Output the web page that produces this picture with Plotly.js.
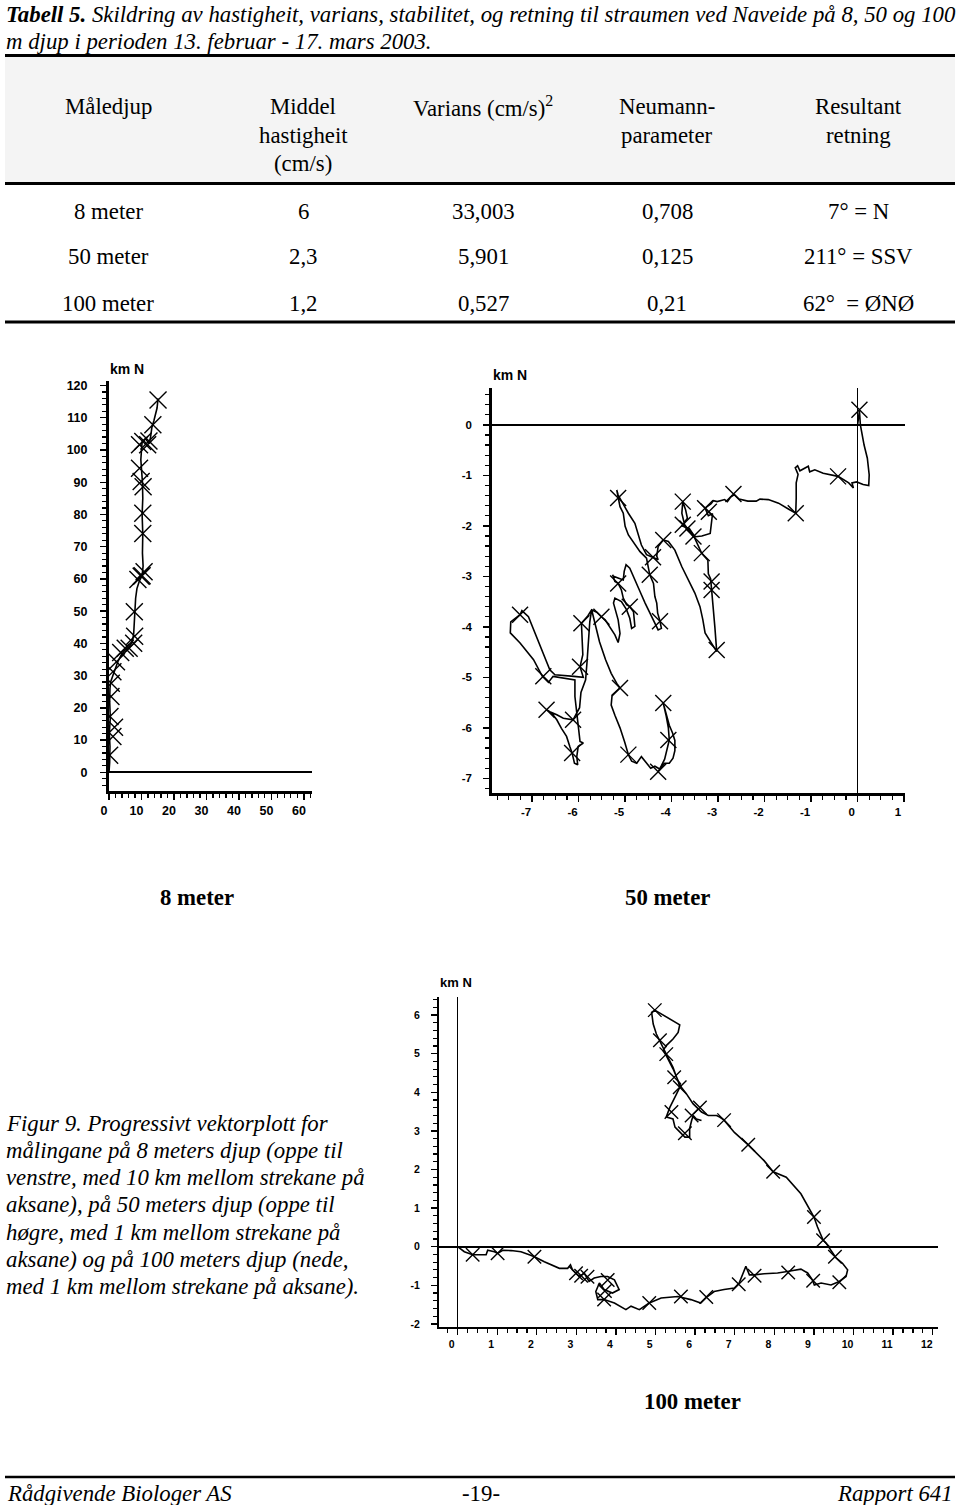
<!DOCTYPE html>
<html><head><meta charset="utf-8">
<script src="https://cdn.plot.ly/plotly-3.0.1.min.js"></script>
<style>html,body{margin:0;padding:0;background:#fff}#c{width:960px;height:1505px}</style>
</head><body><div id="c"></div>
<script>
// ---------- data: 8 m (km) ----------
const x8 = [0,0.2,0.3,0.1,0.4,0.2,0.3,0.5,1.2,2.0,2.8,3.8,5.0,6.2,7.2,7.6,7.8,8.0,8.2,8.6,9.4,10.2,10.5,10.3,10.4,10.2,10.4,10.3,10.1,9.8,10.0,10.2,11.2,12.4,12.8,13.2,13.8,14.4,14.8,15.1];
const y8 = [0,3,8,12,17,22,26,28,30,32.5,34.5,36.5,38,39,40.5,43,47,50,54,57,59.5,61,64,68,74,80,85,90,94,97,100,102.5,103.5,102,104,107,109,111,113,116];
const mx8 = [0.2,1.2,1.7,0.3,0.6,0.7,1.2,2.3,3.6,5.0,6.2,7.6,7.9,7.8,8.9,9.9,10.8,10.2,10.4,10.4,10.5,9.9,9.4,9.4,10.4,11.9,12.3,13.5,15.1];
const my8 = [5.3,11.1,14.0,17.3,23.5,27.6,31.2,34.3,37.2,38.5,38.5,40.0,42.2,49.8,59.8,60.8,62.2,61.0,74.1,80.4,88.6,90.2,94.3,101.6,102.6,101.6,102.8,107.8,115.5];

// ---------- data: 50 m (km) ----------
const x50 = [0,0.04,0.06,0.10,0.14,0.21,0.25,0.24,0.12,-0.02,-0.12,-0.09,-0.19,-0.42,-0.60,-0.74,-0.92,-1.03,-1.06,-1.13,-1.24,-1.29,-1.34,-1.28,-1.32,-1.32,-1.33,-1.48,-1.70,-1.92,-2.10,-2.18,-2.36,-2.55,-2.65,-2.73,-2.80,-2.86,-3.02,-3.10,-3.15,-3.28,-3.21,-3.12,-3.14,-3.17,-3.35,-3.53,-3.62,-3.72,-3.78,-3.76,-3.70,-3.66,-3.78,-3.62,-3.55,-3.45,-3.35,-3.22,-3.21,-3.16,-3.14,-3.10,-3.07,-3.03,-3.14,-3.28,-3.33,-3.39,-3.50,-3.64,-3.78,-3.93,-4.07,-4.18,-4.29,-4.32,-4.29,-4.36,-4.54,-4.65,-4.72,-4.79,-4.93,-5.04,-5.15,-5.18,-5.11,-5.04,-5.00,-4.93,-4.79,-4.68,-4.54,-4.50,-4.47,-4.39,-4.36,-4.32,-4.30,-4.25,-4.22,-4.29,-4.36,-4.47,-4.57,-4.68,-4.79,-4.90,-4.98,-5.02,-5.04,-5.25,-5.27,-5.22,-5.15,-5.08,-5.04,-4.97,-4.90,-4.82,-4.79,-4.86,-4.90,-4.97,-5.08,-5.22,-5.25,-5.15,-5.11,-5.15,-5.22,-5.33,-5.43,-5.51,-5.61,-5.72,-5.80,-5.94,-5.93,-5.91,-5.97,-5.90,-6.10,-6.30,-6.51,-6.62,-6.76,-6.90,-7.08,-7.22,-7.26,-7.46,-7.47,-7.26,-6.97,-6.78,-6.65,-6.55,-6.30,-6.08,-6.08,-6.04,-6.01,-5.97,-5.90,-6.01,-6.04,-6.02,-6.09,-6.14,-6.19,-6.26,-6.37,-6.47,-6.58,-6.69,-6.62,-6.47,-6.33,-6.12,-5.98,-5.95,-5.85,-5.82,-5.79,-5.76,-5.72,-5.65,-5.55,-5.42,-5.30,-5.18,-5.11,-5.28,-5.30,-5.22,-5.11,-5.01,-4.93,-4.86,-4.75,-4.65,-4.55,-4.45,-4.36,-4.25,-4.15,-4.05,-3.97,-3.93,-3.93,-3.98,-4.05,-4.10,-4.15,-4.18,-4.12,-4.07,-4.05,-4.10,-4.15,-4.22,-4.29];
const y50 = [0,0.28,0.00,-0.25,-0.40,-0.66,-0.99,-1.20,-1.18,-1.13,-1.15,-1.25,-1.15,-1.02,-0.98,-0.96,-0.89,-0.93,-0.82,-0.86,-0.91,-0.81,-0.85,-0.98,-1.15,-1.45,-1.75,-1.67,-1.55,-1.48,-1.47,-1.51,-1.51,-1.47,-1.38,-1.43,-1.52,-1.48,-1.52,-1.50,-1.56,-1.65,-1.80,-1.76,-1.95,-2.15,-2.20,-2.22,-2.10,-1.98,-1.75,-1.52,-1.68,-1.85,-2.00,-2.05,-2.15,-2.35,-2.55,-2.68,-2.95,-3.05,-3.25,-3.55,-4.00,-4.49,-4.33,-4.12,-3.85,-3.60,-3.33,-3.07,-2.81,-2.48,-2.31,-2.28,-2.41,-2.60,-2.67,-2.64,-2.57,-2.38,-2.15,-1.95,-1.75,-1.58,-1.39,-1.29,-1.62,-1.75,-2.01,-2.18,-2.38,-2.51,-2.64,-2.81,-2.97,-3.14,-3.40,-3.53,-3.73,-3.89,-4.03,-4.06,-3.93,-3.73,-3.53,-3.30,-3.07,-2.84,-2.77,-2.90,-3.07,-3.00,-2.97,-3.10,-3.14,-3.27,-3.43,-3.56,-3.60,-3.70,-3.99,-4.03,-3.83,-3.66,-3.50,-3.43,-3.53,-3.86,-4.13,-4.31,-4.16,-3.99,-3.86,-3.80,-3.71,-3.66,-3.78,-3.93,-4.25,-4.55,-4.79,-5.00,-4.98,-4.96,-4.95,-4.85,-4.52,-4.19,-3.80,-3.68,-3.76,-3.90,-4.12,-4.32,-4.65,-4.98,-5.10,-4.98,-5.02,-5.05,-5.38,-5.71,-6.04,-6.27,-6.30,-6.37,-6.57,-6.73,-6.70,-6.50,-6.37,-6.17,-6.01,-5.84,-5.71,-5.64,-5.68,-5.74,-5.81,-5.84,-5.60,-5.30,-5.05,-4.70,-4.30,-3.90,-3.66,-3.95,-4.30,-4.65,-4.92,-5.12,-5.21,-5.35,-5.55,-5.75,-6.00,-6.28,-6.53,-6.66,-6.70,-6.57,-6.68,-6.80,-6.76,-6.82,-6.70,-6.70,-6.60,-6.45,-6.25,-6.10,-5.95,-5.80,-5.60,-5.51,-5.75,-6.00,-6.24,-6.45,-6.62,-6.75,-6.87];
const mx50 = [0.04,-0.42,-1.33,-2.67,-3.28,-3.20,-3.76,-3.76,-3.66,-3.53,-3.35,-3.14,-3.14,-3.03,-4.18,-4.40,-4.47,-5.15,-5.15,-4.90,-4.25,-5.51,-5.94,-7.26,-6.76,-5.97,-5.11,-6.69,-6.12,-6.14,-4.93,-4.18,-4.07,-4.29];
const my50 = [0.30,-1.02,-1.75,-1.37,-1.65,-1.72,-1.52,-1.98,-2.05,-2.21,-2.54,-3.10,-3.27,-4.46,-2.28,-2.62,-2.97,-1.45,-3.14,-3.60,-3.89,-3.80,-3.93,-3.76,-4.98,-4.79,-5.21,-5.64,-5.84,-6.50,-6.53,-5.51,-6.24,-6.87];

// ---------- data: 100 m (km) ----------
const x100 = [0,0.17,0.38,0.50,0.72,0.76,0.93,1.01,1.14,1.35,1.60,1.81,1.94,2.19,2.44,2.57,2.78,2.85,2.90,2.99,3.07,3.20,3.32,3.45,3.62,3.79,3.96,4.08,3.91,3.70,3.58,3.49,3.54,3.70,3.96,4.25,4.38,4.59,4.84,5.14,5.56,5.89,6.14,6.31,6.48,6.73,6.99,7.11,7.20,7.28,7.37,7.49,7.74,8.08,8.33,8.67,8.84,8.96,9.01,9.18,9.43,9.64,9.81,9.85,9.72,9.55,9.40,9.30,9.23,9.15,9.09,9.00,8.85,8.67,8.30,7.97,7.74,7.34,6.99,6.73,6.62,6.54,6.33,6.16,6.08,5.95,5.78,5.65,5.53,5.44,5.27,5.15,5.02,4.94,4.90,4.98,5.15,5.36,5.61,5.57,5.44,5.27,5.19,5.27,5.44,5.57,5.61,5.53,5.44,5.36,5.27,5.44,5.49,5.61,5.74,5.86,5.86,5.91,5.95,6.03,6.16];
const y100 = [0,-0.13,-0.21,-0.21,-0.21,-0.09,-0.13,-0.17,-0.09,-0.10,-0.13,-0.21,-0.26,-0.39,-0.51,-0.56,-0.56,-0.47,-0.60,-0.69,-0.77,-0.69,-0.90,-0.81,-0.77,-0.77,-0.86,-1.11,-1.20,-1.11,-0.94,-1.16,-1.37,-1.37,-1.46,-1.63,-1.54,-1.63,-1.46,-1.33,-1.29,-1.37,-1.46,-1.29,-1.16,-1.11,-1.07,-0.94,-0.73,-0.51,-0.73,-0.73,-0.70,-0.68,-0.64,-0.58,-0.68,-0.86,-0.99,-0.94,-0.99,-0.90,-0.77,-0.60,-0.43,-0.28,-0.05,0.10,0.17,0.35,0.51,0.77,1.05,1.37,1.80,1.94,2.23,2.64,2.96,3.28,3.36,3.40,3.40,3.49,3.57,3.70,3.96,4.13,4.39,4.65,4.99,5.25,5.51,5.77,6.07,6.13,6.03,5.90,5.75,5.55,5.38,5.21,5.08,4.95,4.61,4.30,4.13,3.96,3.79,3.61,3.36,3.31,3.10,2.97,2.84,2.84,3.06,3.27,3.40,3.31,3.27];
const mx100 = [0.38,1.01,1.94,2.99,3.12,3.28,3.79,3.72,3.70,4.84,5.64,6.28,7.10,7.50,8.35,8.98,9.64,9.53,9.23,9.00,7.97,7.34,6.73,6.12,5.91,5.40,5.74,5.61,5.47,5.27,5.11,4.98];
const my100 = [-0.21,-0.17,-0.26,-0.69,-0.75,-0.78,-0.86,-1.15,-1.37,-1.46,-1.29,-1.30,-0.97,-0.75,-0.67,-0.88,-0.92,-0.26,0.17,0.77,1.94,2.64,3.28,3.61,3.40,3.49,2.94,4.13,4.39,4.99,5.35,6.13];

// ---------- tick labels ----------
const t8x = [0,10,20,30,40,50,60], t8xl = ['0','10','20','30','40','50','60'];
const t8y = [0,10,20,30,40,50,60,70,80,90,100,110,120], t8yl = t8y.map(String);
const t50x = [-7,-6,-5,-4,-3,-2,-1,0,1], t50xl = ['-7','-6','-5','-4','-3','-2','-1','0','1'];
const t50y = [0,-1,-2,-3,-4,-5,-6,-7], t50yl = ['0','-1','-2','-3','-4','-5','-6','-7'];
const t100x = [0,1,2,3,4,5,6,7,8,9,10,11,12], t100xl = t100x.map(String);
const t100y = [-2,-1,0,1,2,3,4,5,6], t100yl = ['-2','-1','0','1','2','3','4','5','6'];

// ---------- table ----------
const tblHead = [['Måledjup'],['Middel','hastigheit','(cm/s)'],['Varians (cm/s)<sup>2</sup>'],['Neumann-','parameter'],['Resultant','retning']];
const tblRows = [
  ['8 meter','6','33,003','0,708','7° = N'],
  ['50 meter','2,3','5,901','0,125','211° = SSV'],
  ['100 meter','1,2','0,527','0,21','62°  = ØNØ']
];
const captionLines = ['Figur 9. Progressivt vektorplott for','målingane på 8 meters djup (oppe til','venstre, med 10 km mellom strekane på','aksane), på 50 meters djup (oppe til','høgre, med 1 km mellom strekane på','aksane) og på 100 meters djup (nede,','med 1 km mellom strekane på aksane).'];

// ---------- layout helpers ----------
const W=960,H=1505;
const px=x=>x/W, py=y=>1-y/H;
const SERIF='"Liberation Serif", "Times New Roman", serif';
const SANS='"Liberation Sans", Arial, sans-serif';
const FS=22.8;
const ann=[];
function txt(x,y,text,size,anchor,fam){ann.push({xref:'paper',yref:'paper',x:px(x),y:py(y),text:text,showarrow:false,xanchor:anchor||'center',yanchor:'middle',font:{family:fam||SERIF,size:size,color:'#000'}});}

// title
txt(4,15,'<b><i>Tabell 5.</i></b><i> Skildring av hastigheit, varians, stabilitet, og retning til straumen ved Naveide på 8, 50 og 100</i>',FS,'left');
txt(4,41,'<i>m djup i perioden 13. februar - 17. mars 2003.</i>',FS,'left');
// table
const colX=[108,303,483,667,858];
tblHead.forEach((lines,i)=>lines.forEach((l,j)=>txt(colX[i],107+j*28.5,l,FS)));
tblRows.forEach((r,j)=>r.forEach((v,i)=>txt(colX[i],211+j*46,v,FS)));
// plot labels
txt(197,897,'<b>8 meter</b>',FS); txt(667,897,'<b>50 meter</b>',FS); txt(692,1401,'<b>100 meter</b>',FS);
txt(127,369,'<b>km N</b>',14,'center',SANS);
txt(510,375,'<b>km N</b>',14,'center',SANS);
txt(456,982,'<b>km N</b>',13,'center',SANS);
// caption
captionLines.forEach((l,i)=>txt(4,1123+i*27.3,'<i>'+l+'</i>',FS,'left'));
// footer
txt(5,1493,'<i>Rådgivende Biologer AS</i>',FS,'left');
txt(481,1493,'-19-',FS);
txt(955,1493,'<i>Rapport 641</i>',FS,'right');

const shapes=[
 {type:'rect',xref:'paper',yref:'paper',x0:px(5),x1:px(955),y0:py(57),y1:py(182),fillcolor:'#f4f4f4',line:{width:0},layer:'below'},
 {type:'line',xref:'paper',yref:'paper',x0:px(5),x1:px(955),y0:py(55.5),y1:py(55.5),line:{color:'#000',width:3}},
 {type:'line',xref:'paper',yref:'paper',x0:px(5),x1:px(955),y0:py(183.5),y1:py(183.5),line:{color:'#000',width:3}},
 {type:'line',xref:'paper',yref:'paper',x0:px(5),x1:px(955),y0:py(322),y1:py(322),line:{color:'#000',width:3}},
 {type:'line',xref:'paper',yref:'paper',x0:px(5),x1:px(955),y0:py(1477),y1:py(1477),line:{color:'#000',width:2.5}}
];

function axis(dom,range,tv,tt,minor,lw,stand,fs,extra){
  return Object.assign({domain:dom,range:range,autorange:false,showgrid:false,zeroline:false,showline:true,linecolor:'#000',linewidth:lw,
    ticks:'outside',ticklen:6,tickwidth:1.4,tickcolor:'#000',tickmode:'array',tickvals:tv,ticktext:tt,
    ticklabelstandoff:stand,tickfont:{family:SANS,size:fs,color:'#000',weight:'bold'},
    minor:{tickmode:'linear',tick0:0,dtick:minor,ticks:'outside',ticklen:4,tickwidth:1.2,tickcolor:'#000',showgrid:false},fixedrange:true},extra||{});
}
const zl={zeroline:true,zerolinecolor:'#000',zerolinewidth:1.6};

const layout={width:W,height:H,margin:{l:0,r:0,t:0,b:0},paper_bgcolor:'#fff',plot_bgcolor:'rgba(0,0,0,0)',showlegend:false,
 annotations:ann,shapes:shapes,
 xaxis: axis([px(109),px(312)],[0,62.5],t8x,t8xl,2,3,0,12.5,{anchor:'y',ticklabelshift:-5}),
 yaxis: axis([py(790.5),py(381)],[-5.65,121.4],t8y,t8yl,2,3,10,12.5,Object.assign({anchor:'x'},zl)),
 xaxis2: axis([px(491.7),px(905)],[-7.87,1.02],t50x,t50xl,0.25,2.5,1,11.5,Object.assign({anchor:'y2',ticklabelshift:-6},zl)),
 yaxis2: axis([py(793),py(388)],[-7.29,0.73],t50y,t50yl,0.2,2.5,9,11.5,Object.assign({anchor:'x2'},zl)),
 xaxis3: axis([px(439),px(937.5)],[-0.47,12.12],t100x,t100xl,0.25,2,0,10.5,Object.assign({anchor:'y3',ticklabelshift:-6},zl)),
 yaxis3: axis([py(1327),py(997)],[-2.08,6.47],t100y,t100yl,0.2,2,9,10.5,Object.assign({anchor:'x3'},zl))
};

function trk(x,y,xa,ya){return {x:x,y:y,xaxis:xa,yaxis:ya,mode:'lines',line:{color:'#000',width:1.6},hoverinfo:'skip'};}
function mk(x,y,xa,ya,s){return {x:x,y:y,xaxis:xa,yaxis:ya,mode:'markers',marker:{symbol:'x-thin-open',size:s,color:'#000',line:{color:'#000',width:1.4}},hoverinfo:'skip'};}
const data=[trk(x8,y8,'x','y'),mk(mx8,my8,'x','y',17),
            trk(x50,y50,'x2','y2'),mk(mx50,my50,'x2','y2',16),
            trk(x100,y100,'x3','y3'),mk(mx100,my100,'x3','y3',13.5)];
Plotly.newPlot('c',data,layout,{staticPlot:true,displayModeBar:false});
</script></body></html>
